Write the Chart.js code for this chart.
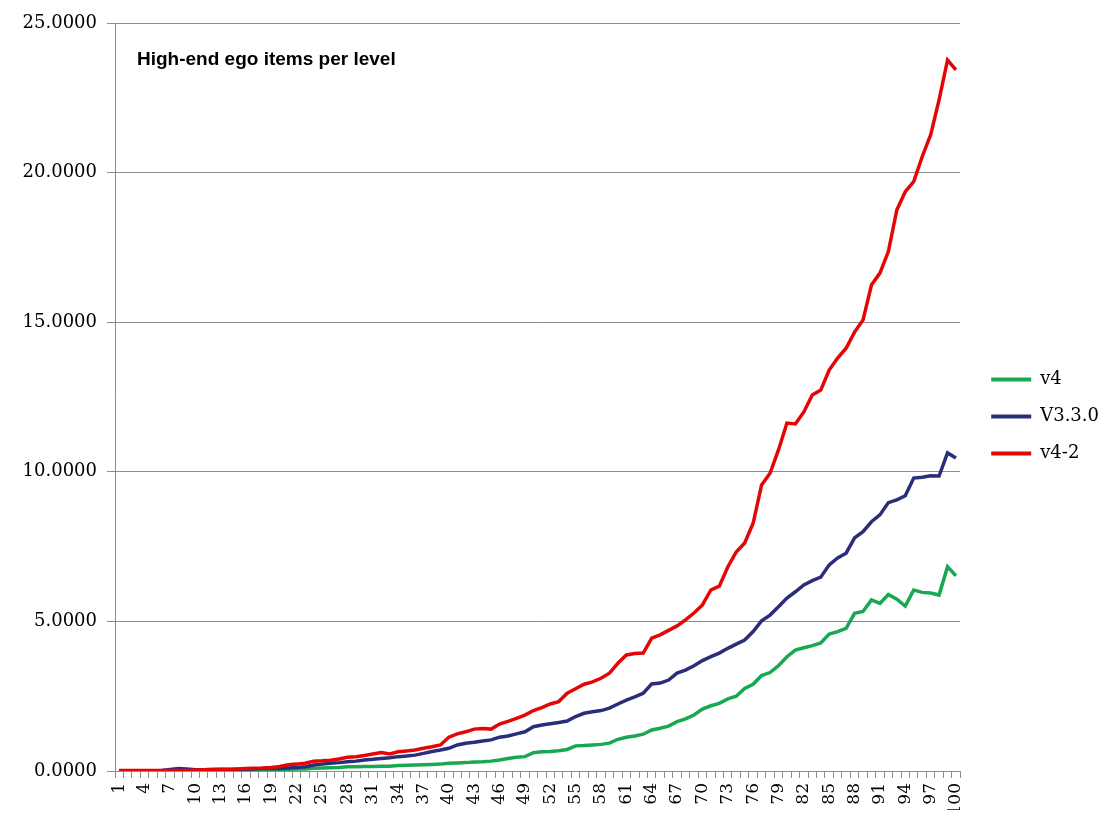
<!DOCTYPE html>
<html>
<head>
<meta charset="utf-8">
<script src="https://cdn.jsdelivr.net/npm/chart.js@4.4.1/dist/chart.umd.min.js"></script>
<style>
  body { margin: 0; background: #fff; }
  #wrap { width: 1120px; height: 833px; position: relative; }
</style>
</head>
<body>
<div id="wrap"><canvas id="myChart"></canvas></div>
<script>
const chartTitle = 'High-end ego items per level';

const levels = [
  1, 2, 3, 4, 5, 6, 7, 8, 9, 10, 11, 12, 13, 14, 15, 16, 17, 18, 19, 20,
  21, 22, 23, 24, 25, 26, 27, 28, 29, 30, 31, 32, 33, 34, 35, 36, 37, 38, 39, 40,
  41, 42, 43, 44, 45, 46, 47, 48, 49, 50, 51, 52, 53, 54, 55, 56, 57, 58, 59, 60,
  61, 62, 63, 64, 65, 66, 67, 68, 69, 70, 71, 72, 73, 74, 75, 76, 77, 78, 79, 80,
  81, 82, 83, 84, 85, 86, 87, 88, 89, 90, 91, 92, 93, 94, 95, 96, 97, 98, 99, 100
];

const seriesNames = ['v4', 'V3.3.0', 'v4-2'];

const v4 = [
  0.00, 0.00, 0.00, 0.00, 0.00, 0.00, 0.00, 0.01, 0.01, 0.01,
  0.01, 0.01, 0.02, 0.02, 0.02, 0.02, 0.03, 0.03, 0.04, 0.05,
  0.06, 0.07, 0.07, 0.09, 0.10, 0.11, 0.12, 0.14, 0.14, 0.15,
  0.15, 0.16, 0.16, 0.18, 0.19, 0.20, 0.21, 0.22, 0.23, 0.26,
  0.27, 0.28, 0.30, 0.31, 0.33, 0.37, 0.42, 0.46, 0.48, 0.61,
  0.64, 0.65, 0.68, 0.72, 0.84, 0.85, 0.87, 0.89, 0.93, 1.06,
  1.13, 1.17, 1.23, 1.37, 1.43, 1.50, 1.65, 1.74, 1.87, 2.07,
  2.18, 2.26, 2.41, 2.50, 2.76, 2.90, 3.19, 3.29, 3.52, 3.82,
  4.04, 4.12, 4.19, 4.28, 4.58, 4.66, 4.77, 5.27, 5.33, 5.72,
  5.60, 5.90, 5.74, 5.51, 6.05, 5.97, 5.95, 5.88, 6.83, 6.52
];

const v330 = [
  0.01, 0.01, 0.01, 0.01, 0.01, 0.02, 0.05, 0.08, 0.07, 0.04,
  0.04, 0.05, 0.05, 0.05, 0.05, 0.06, 0.07, 0.08, 0.08, 0.08,
  0.10, 0.12, 0.14, 0.20, 0.23, 0.26, 0.28, 0.31, 0.33, 0.37,
  0.39, 0.42, 0.44, 0.48, 0.50, 0.53, 0.59, 0.65, 0.70, 0.76,
  0.87, 0.93, 0.96, 1.00, 1.04, 1.13, 1.17, 1.24, 1.31, 1.48,
  1.54, 1.58, 1.62, 1.67, 1.82, 1.93, 1.98, 2.02, 2.10, 2.24,
  2.37, 2.48, 2.60, 2.91, 2.94, 3.04, 3.27, 3.37, 3.52, 3.69,
  3.82, 3.94, 4.10, 4.24, 4.38, 4.66, 5.02, 5.21, 5.49, 5.78,
  5.99, 6.22, 6.36, 6.48, 6.89, 7.12, 7.28, 7.79, 8.00, 8.33,
  8.56, 8.97, 9.06, 9.20, 9.79, 9.82, 9.87, 9.86, 10.63, 10.46
];

const v4_2 = [
  0.02, 0.02, 0.02, 0.02, 0.02, 0.02, 0.02, 0.02, 0.02, 0.03,
  0.04, 0.05, 0.06, 0.06, 0.07, 0.08, 0.09, 0.10, 0.12, 0.15,
  0.21, 0.23, 0.26, 0.33, 0.34, 0.36, 0.40, 0.46, 0.48, 0.52,
  0.57, 0.62, 0.57, 0.64, 0.67, 0.70, 0.76, 0.81, 0.87, 1.13,
  1.24, 1.31, 1.40, 1.42, 1.40, 1.57, 1.66, 1.76, 1.87, 2.02,
  2.12, 2.24, 2.32, 2.60, 2.75, 2.90, 2.98, 3.10, 3.27, 3.60,
  3.88, 3.93, 3.94, 4.44, 4.55, 4.70, 4.85, 5.05, 5.28, 5.55,
  6.05, 6.18, 6.82, 7.32, 7.62, 8.28, 9.56, 9.95, 10.73, 11.63,
  11.60, 12.00, 12.57, 12.73, 13.40, 13.80, 14.13, 14.67, 15.07, 16.24,
  16.64, 17.36, 18.75, 19.36, 19.70, 20.53, 21.26, 22.43, 23.76, 23.43
];

const yTicks = [0, 5, 10, 15, 20, 25];

const gridColor = '#8c8c8c';
const serif = '"DejaVu Serif", "Liberation Serif", serif';

// title sits inside the plot area, top-left
const titlePlugin = {
  id: 'innerTitle',
  afterDraw(chart) {
    const { ctx, chartArea } = chart;
    ctx.save();
    ctx.font = 'bold 19px "Liberation Sans", Arial, sans-serif';
    ctx.fillStyle = '#000';
    ctx.textBaseline = 'middle';
    ctx.fillText(chartTitle, chartArea.left + 22, chartArea.top + 37);
    ctx.restore();
  }
};

function makeSet(label, data, color, order) {
  return {
    label: label,
    data: data,
    borderColor: color,
    backgroundColor: color,
    borderWidth: 3.5,
    pointRadius: 0,
    tension: 0,
    order: order
  };
}

const config = {
  type: 'line',
  data: {
    labels: levels,
    datasets: [
      makeSet(seriesNames[0], v4, 'rgb(24,168,82)', 3),
      makeSet(seriesNames[1], v330, 'rgb(42,46,122)', 2),
      makeSet(seriesNames[2], v4_2, 'rgb(228,6,6)', 1)
    ]
  },
  options: {
    responsive: true,
    maintainAspectRatio: false,
    animation: false,
    layout: { padding: { top: 23, bottom: 23, left: 0, right: 11 } },
    plugins: {
      title: { display: false },
      tooltip: { enabled: false },
      legend: {
        display: true,
        position: 'right',
        labels: {
          boxWidth: 40,
          boxHeight: 4,
          padding: 19,
          color: '#000',
          font: { family: serif, size: 18 },
          sort: (a, b) => a.datasetIndex - b.datasetIndex,
          generateLabels: (chart) =>
            Chart.defaults.plugins.legend.labels.generateLabels(chart).map(l => ({ ...l, lineWidth: 0 }))
        }
      }
    },
    scales: {
      x: {
        type: 'category',
        offset: true,
        grid: {
          offset: true,
          drawOnChartArea: false,
          drawTicks: true,
          tickLength: 7,
          color: gridColor
        },
        border: { display: true, color: gridColor },
        ticks: {
          autoSkip: false,
          maxRotation: 90,
          minRotation: 90,
          padding: 5,
          color: '#000',
          font: { family: serif, size: 17 },
          callback: (val, idx) => (idx % 3 === 0 ? String(levels[idx]) : '')
        },
        afterFit: (s) => { s.height = 39; }
      },
      y: {
        min: yTicks[0],
        max: yTicks[yTicks.length - 1],
        grid: { color: gridColor, tickLength: 8 },
        border: { display: true, color: gridColor },
        afterBuildTicks: (s) => { s.ticks = yTicks.map(v => ({ value: v })); },
        ticks: {
          padding: 10,
          color: '#000',
          font: { family: serif, size: 18 },
          callback: (v) => Number(v).toFixed(4)
        },
        afterFit: (s) => { s.width = 115; }
      },
      gap: {
        type: 'linear',
        position: 'right',
        display: true,
        grid: { display: false },
        border: { display: false },
        ticks: { display: false },
        afterFit: (s) => { s.width = 12; }
      }
    }
  },
  plugins: [titlePlugin]
};

const myChart = new Chart('myChart', config);
</script>
</body>
</html>
